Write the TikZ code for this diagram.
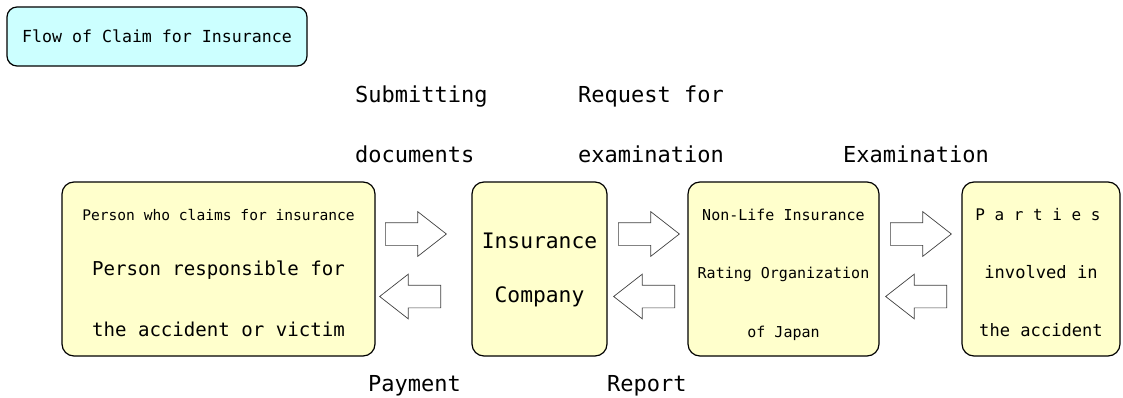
\documentclass[tikz,border=0pt]{standalone}
\usepackage{fontspec}
\setmainfont{DejaVu Sans Mono}
\usetikzlibrary{shapes.arrows}
\definecolor{boxyellow}{HTML}{FFFFCC}
\definecolor{titlecyan}{HTML}{CCFFFF}
\definecolor{arrowgray}{HTML}{404040}
\newcommand{\fsz}[1]{\fontsize{#1}{#1}\selectfont}
\begin{document}
\begin{tikzpicture}[x=1pt,y=-1pt,
    party/.style={draw,line width=1.2pt,fill=boxyellow,rounded corners=12pt,inner sep=0pt,minimum height=174pt},
    fatright/.style={single arrow,draw=arrowgray,line width=0.7pt,fill=white,inner sep=0pt,anchor=tail,
      text height=22pt,text depth=0pt,minimum height=61pt,single arrow head extend=11pt,single arrow tip angle=76},
    fatleft/.style={fatright,shape border rotate=180},
    tag/.style={anchor=base west,inner sep=0pt,font=\fsz{22}},
    line/.style={anchor=base,inner sep=0pt}]
  \useasboundingbox (0,0) rectangle (1123,398);
  % title
  \node[draw,line width=1.2pt,fill=titlecyan,rounded corners=10pt,inner sep=0pt,
    minimum width=300pt,minimum height=59pt,font=\fsz{16.6}] (title) at (157,36.5) {Flow of Claim for Insurance};
  % boxes
  \node[party,minimum width=313pt] (claimant) at (218.5,269) {};
  \node[party,minimum width=135pt] (insurer) at (539.5,269) {};
  \node[party,minimum width=191pt] (rating) at (783.5,269) {};
  \node[party,minimum width=158pt] (parties) at (1041,269) {};
  % box texts
  \node[line,font=\fsz{14.6}] (claimant1) at (218.5,220) {Person who claims for insurance};
  \node[line,font=\fsz{19.1}] (claimant2) at (218.5,275) {Person responsible for};
  \node[line,font=\fsz{19.1}] (claimant3) at (218.5,336) {the accident or victim};
  \node[line,font=\fsz{21.3}] (insurer1) at (539.5,248) {Insurance};
  \node[line,font=\fsz{21.3}] (insurer2) at (539.5,302) {Company};
  \node[line,font=\fsz{15}] (rating1) at (783.5,220) {Non-Life Insurance};
  \node[line,font=\fsz{15}] (rating2) at (783.5,278) {Rating Organization};
  \node[line,font=\fsz{15}] (rating3) at (783.5,337) {of Japan};
  \node[line,font=\fsz{16}] (parties1) at (1038,220) {P a r t i e s};
  \node[line,font=\fsz{17.1}] (parties2) at (1041,278) {involved in};
  \node[line,font=\fsz{17.1}] (parties3) at (1041,336) {the accident};
  % block arrows
  \node[fatright] (submit) at (385,234) {};
  \node[fatleft] (pay) at (441,296.5) {};
  \node[fatright] (request) at (618,234) {};
  \node[fatleft] (report) at (675,296.5) {};
  \node[fatright] (exam) at (890,234) {};
  \node[fatleft] (examback) at (947,296.5) {};
  % labels
  \node[tag] (submitA) at (355,103) {Submitting};
  \node[tag] (submitB) at (355,163) {documents};
  \node[tag] (requestA) at (578,103) {Request for};
  \node[tag] (requestB) at (578,163) {examination};
  \node[tag] (examA) at (843,163) {Examination};
  \node[tag] (payA) at (368,391) {Payment};
  \node[tag] (reportA) at (607,391) {Report};
\end{tikzpicture}
\end{document}
